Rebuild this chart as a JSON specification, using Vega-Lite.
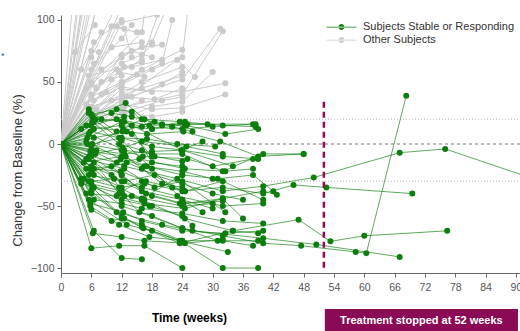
{
"$schema": "https://vega.github.io/schema/vega-lite/v6.json",
"width": 460,
"height": 258,
"autosize": "none",
"padding": {"left": 61, "top": 15, "right": 0, "bottom": 58},
"background": "white",
"config": {"view": {"stroke": null}, "font": "Liberation Sans", "axis": {"labelOverlap": false}},
"datasets": {
"subjects": [
{"s":"g1","g":"O","w":0,"v":0},{"s":"g1","g":"O","w":6,"v":75},{"s":"g1","g":"O","w":7.5,"v":74},
{"s":"g2","g":"O","w":0,"v":0},{"s":"g2","g":"O","w":6,"v":160},
{"s":"g3","g":"O","w":0,"v":0},{"s":"g3","g":"O","w":8,"v":220},
{"s":"g4","g":"O","w":0,"v":0},{"s":"g4","g":"O","w":12,"v":300},
{"s":"g5","g":"O","w":0,"v":0},{"s":"g5","g":"O","w":4,"v":130},
{"s":"g6","g":"O","w":0,"v":0},{"s":"g6","g":"O","w":10,"v":200},
{"s":"g7","g":"O","w":0,"v":0},{"s":"g7","g":"O","w":6.5,"v":82},{"s":"g7","g":"O","w":12,"v":100},
{"s":"g8","g":"O","w":0,"v":0},{"s":"g8","g":"O","w":11,"v":95},{"s":"g8","g":"O","w":12.5,"v":93},{"s":"g8","g":"O","w":14,"v":70},
{"s":"g9","g":"O","w":0,"v":0},{"s":"g9","g":"O","w":12,"v":98},{"s":"g9","g":"O","w":19,"v":104},
{"s":"g10","g":"O","w":0,"v":0},{"s":"g10","g":"O","w":5.5,"v":55},{"s":"g10","g":"O","w":12.5,"v":62},{"s":"g10","g":"O","w":16,"v":66},
{"s":"g11","g":"O","w":0,"v":0},{"s":"g11","g":"O","w":8,"v":40},{"s":"g11","g":"O","w":11.5,"v":58},{"s":"g11","g":"O","w":16.5,"v":54},
{"s":"g12","g":"O","w":0,"v":0},{"s":"g12","g":"O","w":6.5,"v":35},{"s":"g12","g":"O","w":12,"v":46},{"s":"g12","g":"O","w":18,"v":42},
{"s":"g13","g":"O","w":0,"v":0},{"s":"g13","g":"O","w":6,"v":30},{"s":"g13","g":"O","w":13,"v":38},{"s":"g13","g":"O","w":18.5,"v":36},{"s":"g13","g":"O","w":24,"v":45},
{"s":"g14","g":"O","w":0,"v":0},{"s":"g14","g":"O","w":5,"v":45},{"s":"g14","g":"O","w":10,"v":52},{"s":"g14","g":"O","w":12,"v":55},
{"s":"g15","g":"O","w":0,"v":0},{"s":"g15","g":"O","w":12,"v":72},{"s":"g15","g":"O","w":16,"v":78},{"s":"g15","g":"O","w":20,"v":80},
{"s":"g16","g":"O","w":0,"v":0},{"s":"g16","g":"O","w":12,"v":110},{"s":"g16","g":"O","w":20,"v":180},
{"s":"g17","g":"O","w":0,"v":0},{"s":"g17","g":"O","w":6,"v":25},{"s":"g17","g":"O","w":12,"v":32},{"s":"g17","g":"O","w":18,"v":28},{"s":"g17","g":"O","w":24,"v":29},{"s":"g17","g":"O","w":32.5,"v":40},
{"s":"g18","g":"O","w":0,"v":0},{"s":"g18","g":"O","w":7,"v":28},{"s":"g18","g":"O","w":12,"v":44},{"s":"g18","g":"O","w":24,"v":42},{"s":"g18","g":"O","w":32.5,"v":49},
{"s":"g19","g":"O","w":0,"v":0},{"s":"g19","g":"O","w":12,"v":36},{"s":"g19","g":"O","w":24,"v":52},{"s":"g19","g":"O","w":31.5,"v":93},
{"s":"g20","g":"O","w":0,"v":0},{"s":"g20","g":"O","w":12.5,"v":30},{"s":"g20","g":"O","w":24,"v":40},{"s":"g20","g":"O","w":32,"v":91},
{"s":"g21","g":"O","w":0,"v":0},{"s":"g21","g":"O","w":6,"v":38},{"s":"g21","g":"O","w":12,"v":50},{"s":"g21","g":"O","w":16,"v":60},{"s":"g21","g":"O","w":24,"v":76},
{"s":"g22","g":"O","w":0,"v":0},{"s":"g22","g":"O","w":6,"v":22},{"s":"g22","g":"O","w":12,"v":35},{"s":"g22","g":"O","w":23,"v":68},{"s":"g22","g":"O","w":26.5,"v":54},
{"s":"g23","g":"O","w":0,"v":0},{"s":"g23","g":"O","w":6,"v":60},{"s":"g23","g":"O","w":12,"v":85},{"s":"g23","g":"O","w":14,"v":96},
{"s":"g24","g":"O","w":0,"v":0},{"s":"g24","g":"O","w":8,"v":50},{"s":"g24","g":"O","w":16,"v":68},{"s":"g24","g":"O","w":24,"v":160},
{"s":"g25","g":"O","w":0,"v":0},{"s":"g25","g":"O","w":12,"v":48},{"s":"g25","g":"O","w":18,"v":60},{"s":"g25","g":"O","w":24,"v":70},{"s":"g25","g":"O","w":26,"v":140},
{"s":"g26","g":"O","w":0,"v":0},{"s":"g26","g":"O","w":6,"v":28},{"s":"g26","g":"O","w":12,"v":20},{"s":"g26","g":"O","w":18,"v":30},{"s":"g26","g":"O","w":24,"v":34},{"s":"g26","g":"O","w":30,"v":58},
{"s":"g27","g":"O","w":0,"v":0},{"s":"g27","g":"O","w":12,"v":50},{"s":"g27","g":"O","w":20,"v":65},{"s":"g27","g":"O","w":22,"v":100},
{"s":"g28","g":"O","w":0,"v":0},{"s":"g28","g":"O","w":6,"v":30},{"s":"g28","g":"O","w":16,"v":45},{"s":"g28","g":"O","w":24,"v":55},
{"s":"g29","g":"O","w":0,"v":0},{"s":"g29","g":"O","w":12,"v":25},{"s":"g29","g":"O","w":20,"v":35},{"s":"g29","g":"O","w":24,"v":38},
{"s":"g30","g":"O","w":0,"v":0},{"s":"g30","g":"O","w":6,"v":50},{"s":"g30","g":"O","w":16,"v":90},{"s":"g30","g":"O","w":18,"v":150},
{"s":"g31","g":"O","w":0,"v":0},{"s":"g31","g":"O","w":2.8,"v":74},{"s":"g31","g":"O","w":6.7,"v":96},
{"s":"g32","g":"O","w":0,"v":0},{"s":"g32","g":"O","w":10,"v":95},{"s":"g32","g":"O","w":15,"v":90},
{"s":"g33","g":"O","w":0,"v":0},{"s":"g33","g":"O","w":6,"v":70},{"s":"g33","g":"O","w":12,"v":120},
{"s":"g34","g":"O","w":0,"v":0},{"s":"g34","g":"O","w":3,"v":150},
{"s":"g35","g":"O","w":0,"v":0},{"s":"g35","g":"O","w":7,"v":250},
{"s":"g36","g":"O","w":0,"v":0},{"s":"g36","g":"O","w":5,"v":110},
{"s":"g37","g":"O","w":0,"v":0},{"s":"g37","g":"O","w":9,"v":140},
{"s":"g38","g":"O","w":0,"v":0},{"s":"g38","g":"O","w":14,"v":260},
{"s":"g39","g":"O","w":0,"v":0},{"s":"g39","g":"O","w":16,"v":250},
{"s":"g40","g":"O","w":0,"v":0},{"s":"g40","g":"O","w":6,"v":40},{"s":"g40","g":"O","w":12,"v":65},{"s":"g40","g":"O","w":16,"v":72},{"s":"g40","g":"O","w":18,"v":80},
{"s":"g41","g":"O","w":0,"v":0},{"s":"g41","g":"O","w":6,"v":20},{"s":"g41","g":"O","w":12,"v":28},{"s":"g41","g":"O","w":16,"v":35},
{"s":"g42","g":"O","w":0,"v":0},{"s":"g42","g":"O","w":7,"v":45},{"s":"g42","g":"O","w":11,"v":60},{"s":"g42","g":"O","w":14,"v":62},{"s":"g42","g":"O","w":20,"v":68},
{"s":"g43","g":"O","w":0,"v":0},{"s":"g43","g":"O","w":6.5,"v":65},{"s":"g43","g":"O","w":10,"v":78},{"s":"g43","g":"O","w":16,"v":82},
{"s":"g44","g":"O","w":0,"v":0},{"s":"g44","g":"O","w":12,"v":40},{"s":"g44","g":"O","w":16,"v":50},{"s":"g44","g":"O","w":24,"v":62},
{"s":"g45","g":"O","w":0,"v":0},{"s":"g45","g":"O","w":12.5,"v":26},{"s":"g45","g":"O","w":18,"v":22},{"s":"g45","g":"O","w":24,"v":26},
{"s":"g46","g":"O","w":0,"v":0},{"s":"g46","g":"O","w":8,"v":60},{"s":"g46","g":"O","w":14,"v":75},{"s":"g46","g":"O","w":18,"v":70},
{"s":"g47","g":"O","w":0,"v":0},{"s":"g47","g":"O","w":10,"v":35},{"s":"g47","g":"O","w":14,"v":38},{"s":"g47","g":"O","w":20,"v":48},{"s":"g47","g":"O","w":24,"v":58},
{"s":"g48","g":"O","w":0,"v":0},{"s":"g48","g":"O","w":4,"v":60},{"s":"g48","g":"O","w":8,"v":90},
{"s":"g49","g":"O","w":0,"v":0},{"s":"g49","g":"O","w":6,"v":48},{"s":"g49","g":"O","w":12,"v":70},{"s":"g49","g":"O","w":18,"v":82},{"s":"g49","g":"O","w":22,"v":120},
{"s":"g50","g":"O","w":0,"v":0},{"s":"g50","g":"O","w":5,"v":32},{"s":"g50","g":"O","w":9,"v":42},{"s":"g50","g":"O","w":15,"v":56},
{"s":"a1","g":"S","w":0,"v":0},{"s":"a1","g":"S","w":5.5,"v":28},{"s":"a1","g":"S","w":8,"v":20},{"s":"a1","g":"S","w":12.5,"v":18},{"s":"a1","g":"S","w":16,"v":14},{"s":"a1","g":"S","w":24,"v":12},{"s":"a1","g":"S","w":30,"v":14},{"s":"a1","g":"S","w":38,"v":16},
{"s":"a2","g":"S","w":0,"v":0},{"s":"a2","g":"S","w":6.2,"v":22},{"s":"a2","g":"S","w":12.8,"v":33},{"s":"a2","g":"S","w":16.5,"v":20},{"s":"a2","g":"S","w":23.5,"v":18},{"s":"a2","g":"S","w":32,"v":15},{"s":"a2","g":"S","w":38.5,"v":14},
{"s":"a3","g":"S","w":0,"v":0},{"s":"a3","g":"S","w":4,"v":12},{"s":"a3","g":"S","w":6.5,"v":18},{"s":"a3","g":"S","w":11,"v":20},{"s":"a3","g":"S","w":17.5,"v":15},{"s":"a3","g":"S","w":24.5,"v":16},{"s":"a3","g":"S","w":29,"v":16},
{"s":"a4","g":"S","w":0,"v":0},{"s":"a4","g":"S","w":5,"v":15},{"s":"a4","g":"S","w":12.2,"v":10},{"s":"a4","g":"S","w":18.5,"v":18},{"s":"a4","g":"S","w":22,"v":14},{"s":"a4","g":"S","w":26,"v":10},
{"s":"a5","g":"S","w":0,"v":0},{"s":"a5","g":"S","w":6.8,"v":20},{"s":"a5","g":"S","w":10,"v":25},{"s":"a5","g":"S","w":14,"v":22},{"s":"a5","g":"S","w":20,"v":16},{"s":"a5","g":"S","w":24.8,"v":15},{"s":"a5","g":"S","w":32.5,"v":8},{"s":"a5","g":"S","w":39,"v":12},
{"s":"a6","g":"S","w":0,"v":0},{"s":"a6","g":"S","w":5.8,"v":10},{"s":"a6","g":"S","w":11.5,"v":5},{"s":"a6","g":"S","w":17,"v":4},{"s":"a6","g":"S","w":23,"v":0},{"s":"a6","g":"S","w":30.5,"v":-2},
{"s":"a7","g":"S","w":0,"v":0},{"s":"a7","g":"S","w":6.5,"v":5},{"s":"a7","g":"S","w":13,"v":10},{"s":"a7","g":"S","w":17,"v":8},{"s":"a7","g":"S","w":24.2,"v":10},{"s":"a7","g":"S","w":31.5,"v":2},{"s":"a7","g":"S","w":39,"v":-10},{"s":"a7","g":"S","w":48,"v":-8},
{"s":"a8","g":"S","w":0,"v":0},{"s":"a8","g":"S","w":5.2,"v":0},{"s":"a8","g":"S","w":12,"v":-5},{"s":"a8","g":"S","w":16.2,"v":-10},{"s":"a8","g":"S","w":25,"v":-12},{"s":"a8","g":"S","w":30,"v":-18},{"s":"a8","g":"S","w":38,"v":-12},
{"s":"a9","g":"S","w":0,"v":0},{"s":"a9","g":"S","w":7,"v":-5},{"s":"a9","g":"S","w":12.5,"v":-8},{"s":"a9","g":"S","w":18,"v":-6},{"s":"a9","g":"S","w":23.8,"v":-5},{"s":"a9","g":"S","w":28,"v":2},
{"s":"a10","g":"S","w":0,"v":0},{"s":"a10","g":"S","w":6,"v":-10},{"s":"a10","g":"S","w":11,"v":-15},{"s":"a10","g":"S","w":15.5,"v":-12},{"s":"a10","g":"S","w":24.5,"v":-20},{"s":"a10","g":"S","w":32.5,"v":-22},{"s":"a10","g":"S","w":38,"v":-20},
{"s":"a11","g":"S","w":0,"v":0},{"s":"a11","g":"S","w":4.5,"v":-15},{"s":"a11","g":"S","w":12,"v":-10},{"s":"a11","g":"S","w":17,"v":-18},{"s":"a11","g":"S","w":24,"v":-25},{"s":"a11","g":"S","w":31,"v":-28},{"s":"a11","g":"S","w":38,"v":-25},{"s":"a11","g":"S","w":42,"v":-38},
{"s":"a12","g":"S","w":0,"v":0},{"s":"a12","g":"S","w":6.3,"v":-20},{"s":"a12","g":"S","w":11.8,"v":-22},{"s":"a12","g":"S","w":16.8,"v":-30},{"s":"a12","g":"S","w":22,"v":-35},{"s":"a12","g":"S","w":24.5,"v":-38},
{"s":"a13","g":"S","w":0,"v":0},{"s":"a13","g":"S","w":5.5,"v":-25},{"s":"a13","g":"S","w":12.5,"v":-30},{"s":"a13","g":"S","w":18.5,"v":-25},{"s":"a13","g":"S","w":24,"v":-32},{"s":"a13","g":"S","w":30,"v":-40},{"s":"a13","g":"S","w":36,"v":-45},
{"s":"a14","g":"S","w":0,"v":0},{"s":"a14","g":"S","w":6,"v":-30},{"s":"a14","g":"S","w":10.5,"v":-28},{"s":"a14","g":"S","w":16,"v":-35},{"s":"a14","g":"S","w":23,"v":-42},{"s":"a14","g":"S","w":32,"v":-50},{"s":"a14","g":"S","w":40,"v":-48},
{"s":"a15","g":"S","w":0,"v":0},{"s":"a15","g":"S","w":6.5,"v":-35},{"s":"a15","g":"S","w":12,"v":-45},{"s":"a15","g":"S","w":17.5,"v":-50},{"s":"a15","g":"S","w":24,"v":-58},{"s":"a15","g":"S","w":26,"v":-66},
{"s":"a16","g":"S","w":0,"v":0},{"s":"a16","g":"S","w":5,"v":-40},{"s":"a16","g":"S","w":11,"v":-42},{"s":"a16","g":"S","w":16.5,"v":-48},{"s":"a16","g":"S","w":24.5,"v":-52},{"s":"a16","g":"S","w":32,"v":-44},{"s":"a16","g":"S","w":36,"v":-60},
{"s":"a17","g":"S","w":0,"v":0},{"s":"a17","g":"S","w":5.8,"v":-48},{"s":"a17","g":"S","w":12.3,"v":-55},{"s":"a17","g":"S","w":16,"v":-62},{"s":"a17","g":"S","w":24,"v":-70},{"s":"a17","g":"S","w":32.5,"v":-72},{"s":"a17","g":"S","w":40,"v":-70},
{"s":"a18","g":"S","w":0,"v":0},{"s":"a18","g":"S","w":6,"v":-53},{"s":"a18","g":"S","w":10,"v":-62},{"s":"a18","g":"S","w":12,"v":-60},{"s":"a18","g":"S","w":16,"v":-65},{"s":"a18","g":"S","w":24,"v":-78},{"s":"a18","g":"S","w":32,"v":-78},{"s":"a18","g":"S","w":38,"v":-82},
{"s":"a19","g":"S","w":0,"v":0},{"s":"a19","g":"S","w":6.3,"v":-72},{"s":"a19","g":"S","w":12,"v":-75},{"s":"a19","g":"S","w":16.5,"v":-78},{"s":"a19","g":"S","w":24.5,"v":-80},{"s":"a19","g":"S","w":32,"v":-77},
{"s":"a20","g":"S","w":0,"v":0},{"s":"a20","g":"S","w":6,"v":-84},{"s":"a20","g":"S","w":11.5,"v":-82},{"s":"a20","g":"S","w":16.5,"v":-82},{"s":"a20","g":"S","w":24,"v":-100},
{"s":"a21","g":"S","w":0,"v":0},{"s":"a21","g":"S","w":6.5,"v":-70},{"s":"a21","g":"S","w":12,"v":-92},{"s":"a21","g":"S","w":16,"v":-93},
{"s":"a22","g":"S","w":0,"v":0},{"s":"a22","g":"S","w":5.5,"v":-45},{"s":"a22","g":"S","w":13,"v":-65},{"s":"a22","g":"S","w":18,"v":-70},{"s":"a22","g":"S","w":23.5,"v":-78},{"s":"a22","g":"S","w":33,"v":-87},
{"s":"a23","g":"S","w":0,"v":0},{"s":"a23","g":"S","w":6,"v":-38},{"s":"a23","g":"S","w":12,"v":-58},{"s":"a23","g":"S","w":16,"v":-67},{"s":"a23","g":"S","w":24,"v":-79},{"s":"a23","g":"S","w":32,"v":-100},{"s":"a23","g":"S","w":39,"v":-100},
{"s":"a24","g":"S","w":0,"v":0},{"s":"a24","g":"S","w":6.5,"v":-20},{"s":"a24","g":"S","w":12,"v":-40},{"s":"a24","g":"S","w":15.5,"v":-55},{"s":"a24","g":"S","w":24,"v":-68},{"s":"a24","g":"S","w":31,"v":-78},{"s":"a24","g":"S","w":39,"v":-78},
{"s":"a25","g":"S","w":0,"v":0},{"s":"a25","g":"S","w":5,"v":-12},{"s":"a25","g":"S","w":12.5,"v":-20},{"s":"a25","g":"S","w":18.5,"v":-35},{"s":"a25","g":"S","w":24,"v":-30},{"s":"a25","g":"S","w":32.5,"v":-55},
{"s":"a26","g":"S","w":0,"v":0},{"s":"a26","g":"S","w":6.8,"v":-8},{"s":"a26","g":"S","w":12.2,"v":-3},{"s":"a26","g":"S","w":16,"v":2},{"s":"a26","g":"S","w":24.8,"v":-2},{"s":"a26","g":"S","w":32,"v":-8},
{"s":"a27","g":"S","w":0,"v":0},{"s":"a27","g":"S","w":5.5,"v":25},{"s":"a27","g":"S","w":11,"v":10},{"s":"a27","g":"S","w":14,"v":8},{"s":"a27","g":"S","w":18,"v":-10},
{"s":"a28","g":"S","w":0,"v":0},{"s":"a28","g":"S","w":6.2,"v":18},{"s":"a28","g":"S","w":11.5,"v":0},{"s":"a28","g":"S","w":16,"v":-5},{"s":"a28","g":"S","w":18.5,"v":-10},{"s":"a28","g":"S","w":24,"v":-14},
{"s":"a29","g":"S","w":0,"v":0},{"s":"a29","g":"S","w":5,"v":-20},{"s":"a29","g":"S","w":10,"v":-18},{"s":"a29","g":"S","w":12,"v":-25},{"s":"a29","g":"S","w":16,"v":-38},{"s":"a29","g":"S","w":24,"v":-45},{"s":"a29","g":"S","w":30,"v":-52},
{"s":"a30","g":"S","w":0,"v":0},{"s":"a30","g":"S","w":4.5,"v":-28},{"s":"a30","g":"S","w":11.5,"v":-35},{"s":"a30","g":"S","w":16.5,"v":-45},{"s":"a30","g":"S","w":18,"v":-50},
{"s":"a31","g":"S","w":0,"v":0},{"s":"a31","g":"S","w":6,"v":-22},{"s":"a31","g":"S","w":13,"v":-15},{"s":"a31","g":"S","w":16,"v":-20},{"s":"a31","g":"S","w":24,"v":-38},{"s":"a31","g":"S","w":32,"v":-35},{"s":"a31","g":"S","w":40,"v":-40},{"s":"a31","g":"S","w":46,"v":-33},{"s":"a31","g":"S","w":52.5,"v":-35},{"s":"a31","g":"S","w":69.5,"v":-40},
{"s":"a32","g":"S","w":0,"v":0},{"s":"a32","g":"S","w":5.5,"v":-10},{"s":"a32","g":"S","w":12,"v":-25},{"s":"a32","g":"S","w":16.8,"v":-40},{"s":"a32","g":"S","w":24.2,"v":-48},{"s":"a32","g":"S","w":32,"v":-44},{"s":"a32","g":"S","w":40,"v":-38},{"s":"a32","g":"S","w":42.7,"v":-41},
{"s":"a33","g":"S","w":0,"v":0},{"s":"a33","g":"S","w":6,"v":-5},{"s":"a33","g":"S","w":12.5,"v":-18},{"s":"a33","g":"S","w":23,"v":-28},{"s":"a33","g":"S","w":32,"v":-38},{"s":"a33","g":"S","w":40,"v":-34},{"s":"a33","g":"S","w":50,"v":-27},{"s":"a33","g":"S","w":67,"v":-7},{"s":"a33","g":"S","w":76,"v":-4},{"s":"a33","g":"S","w":92,"v":-26},
{"s":"a34","g":"S","w":0,"v":0},{"s":"a34","g":"S","w":6.5,"v":-15},{"s":"a34","g":"S","w":11.5,"v":-40},{"s":"a34","g":"S","w":16,"v":-45},{"s":"a34","g":"S","w":24.5,"v":-60},{"s":"a34","g":"S","w":34,"v":-70},{"s":"a34","g":"S","w":47,"v":-61},{"s":"a34","g":"S","w":53.3,"v":-78.5},{"s":"a34","g":"S","w":60,"v":-74},{"s":"a34","g":"S","w":76.4,"v":-70},
{"s":"a35","g":"S","w":0,"v":0},{"s":"a35","g":"S","w":5.5,"v":-30},{"s":"a35","g":"S","w":12,"v":-50},{"s":"a35","g":"S","w":18,"v":-58},{"s":"a35","g":"S","w":24,"v":-68},{"s":"a35","g":"S","w":32,"v":-74},{"s":"a35","g":"S","w":40,"v":-80},{"s":"a35","g":"S","w":47.5,"v":-82},{"s":"a35","g":"S","w":58.3,"v":-87},{"s":"a35","g":"S","w":60.4,"v":-88},{"s":"a35","g":"S","w":68.3,"v":39},
{"s":"a36","g":"S","w":0,"v":0},{"s":"a36","g":"S","w":6,"v":-40},{"s":"a36","g":"S","w":11,"v":-55},{"s":"a36","g":"S","w":20,"v":-65},{"s":"a36","g":"S","w":26,"v":-70},{"s":"a36","g":"S","w":40,"v":-76},{"s":"a36","g":"S","w":50.5,"v":-81},{"s":"a36","g":"S","w":67,"v":-91},
{"s":"a37","g":"S","w":0,"v":0},{"s":"a37","g":"S","w":6.2,"v":-35},{"s":"a37","g":"S","w":12.5,"v":-60},{"s":"a37","g":"S","w":16.3,"v":-68},{"s":"a37","g":"S","w":23.5,"v":-80},{"s":"a37","g":"S","w":34,"v":-70},{"s":"a37","g":"S","w":39,"v":-72},
{"s":"a38","g":"S","w":0,"v":0},{"s":"a38","g":"S","w":4,"v":-32},{"s":"a38","g":"S","w":12,"v":-40},{"s":"a38","g":"S","w":14,"v":-42},{"s":"a38","g":"S","w":24,"v":-50},{"s":"a38","g":"S","w":30,"v":-48},
{"s":"a39","g":"S","w":0,"v":0},{"s":"a39","g":"S","w":6.5,"v":12},{"s":"a39","g":"S","w":12,"v":15},{"s":"a39","g":"S","w":18,"v":12},{"s":"a39","g":"S","w":25,"v":16},{"s":"a39","g":"S","w":38.5,"v":16},
{"s":"a40","g":"S","w":0,"v":0},{"s":"a40","g":"S","w":5.5,"v":8},{"s":"a40","g":"S","w":12.5,"v":-5},{"s":"a40","g":"S","w":18,"v":-8},{"s":"a40","g":"S","w":24,"v":-8},{"s":"a40","g":"S","w":32,"v":-22},{"s":"a40","g":"S","w":40,"v":-8},{"s":"a40","g":"S","w":48,"v":-8},
{"s":"a41","g":"S","w":0,"v":0},{"s":"a41","g":"S","w":6,"v":-2},{"s":"a41","g":"S","w":12.3,"v":12},{"s":"a41","g":"S","w":16,"v":20},{"s":"a41","g":"S","w":20,"v":15},{"s":"a41","g":"S","w":24.5,"v":18},
{"s":"a42","g":"S","w":0,"v":0},{"s":"a42","g":"S","w":5,"v":2},{"s":"a42","g":"S","w":11.8,"v":-12},{"s":"a42","g":"S","w":16.5,"v":-18},{"s":"a42","g":"S","w":24,"v":-22},{"s":"a42","g":"S","w":30,"v":-28},
{"s":"a43","g":"S","w":0,"v":0},{"s":"a43","g":"S","w":6,"v":-18},{"s":"a43","g":"S","w":10,"v":-25},{"s":"a43","g":"S","w":12.5,"v":-42},{"s":"a43","g":"S","w":16,"v":-44},{"s":"a43","g":"S","w":24,"v":-25},
{"s":"a44","g":"S","w":0,"v":0},{"s":"a44","g":"S","w":6.5,"v":-25},{"s":"a44","g":"S","w":12,"v":-35},{"s":"a44","g":"S","w":16.5,"v":-32},{"s":"a44","g":"S","w":24.5,"v":-38},{"s":"a44","g":"S","w":32,"v":-30},{"s":"a44","g":"S","w":40,"v":-45},
{"s":"a45","g":"S","w":0,"v":0},{"s":"a45","g":"S","w":5.2,"v":5},{"s":"a45","g":"S","w":12,"v":18},{"s":"a45","g":"S","w":14,"v":15},{"s":"a45","g":"S","w":24,"v":-5},{"s":"a45","g":"S","w":32,"v":-10},{"s":"a45","g":"S","w":39,"v":-12},
{"s":"a46","g":"S","w":0,"v":0},{"s":"a46","g":"S","w":6,"v":24},{"s":"a46","g":"S","w":11,"v":28},{"s":"a46","g":"S","w":14,"v":26},{"s":"a46","g":"S","w":18,"v":12},
{"s":"a47","g":"S","w":0,"v":0},{"s":"a47","g":"S","w":6.5,"v":-45},{"s":"a47","g":"S","w":12,"v":-48},{"s":"a47","g":"S","w":16,"v":-52},{"s":"a47","g":"S","w":24,"v":-56},{"s":"a47","g":"S","w":32,"v":-62},{"s":"a47","g":"S","w":40,"v":-64},
{"s":"a48","g":"S","w":0,"v":0},{"s":"a48","g":"S","w":5.8,"v":-6},{"s":"a48","g":"S","w":12.8,"v":-10},{"s":"a48","g":"S","w":20,"v":-32},{"s":"a48","g":"S","w":24,"v":-35},
{"s":"a49","g":"S","w":0,"v":0},{"s":"a49","g":"S","w":6,"v":15},{"s":"a49","g":"S","w":12.5,"v":22},{"s":"a49","g":"S","w":18,"v":-15},{"s":"a49","g":"S","w":24,"v":-18},
{"s":"a50","g":"S","w":0,"v":0},{"s":"a50","g":"S","w":5.5,"v":-12},{"s":"a50","g":"S","w":12,"v":-30},{"s":"a50","g":"S","w":18,"v":-42},{"s":"a50","g":"S","w":23.5,"v":-48},{"s":"a50","g":"S","w":32,"v":-46},
{"s":"a51","g":"S","w":0,"v":0},{"s":"a51","g":"S","w":6.2,"v":0},{"s":"a51","g":"S","w":12,"v":5},{"s":"a51","g":"S","w":18,"v":-2},{"s":"a51","g":"S","w":24,"v":-5},{"s":"a51","g":"S","w":34,"v":-18},
{"s":"a52","g":"S","w":0,"v":0},{"s":"a52","g":"S","w":4,"v":-28},{"s":"a52","g":"S","w":6,"v":-32},{"s":"a52","g":"S","w":12,"v":-38},{"s":"a52","g":"S","w":16,"v":-30},
{"s":"a53","g":"S","w":0,"v":0},{"s":"a53","g":"S","w":5.8,"v":-50},{"s":"a53","g":"S","w":11.5,"v":-65},{"s":"a53","g":"S","w":17.5,"v":-75},{"s":"a53","g":"S","w":24,"v":-78},
{"s":"a54","g":"S","w":0,"v":0},{"s":"a54","g":"S","w":6.5,"v":20},{"s":"a54","g":"S","w":12,"v":3},{"s":"a54","g":"S","w":18,"v":-20},{"s":"a54","g":"S","w":24,"v":-45},{"s":"a54","g":"S","w":28,"v":-55}
]
},
"encoding": {
"x": {"field": "w", "type": "quantitative",
"scale": {"domain": [0, 91], "nice": false, "zero": false},
"axis": {"values": [0,6,12,18,24,30,36,42,48,54,60,66,72,78,84,90], "grid": false, "labelOverlap": false, "labelBound": false, "labelColor": "#555555", "labelFontSize": 10.5, "tickColor": "#666666", "domainColor": "#666666", "tickSize": 4, "labelPadding": 5, "title": "Time (weeks)", "titleFontSize": 12, "titleFontWeight": "bold", "titleColor": "#000000", "titleX": 128, "titleY": 44, "titleAnchor": "middle", "titleBaseline": "middle", "labelFlush": false}},
"y": {"field": "v", "type": "quantitative",
"scale": {"domain": [-104, 104], "nice": false, "zero": false},
"axis": {"values": [-100, -50, 0, 50, 100], "grid": false, "labelOverlap": false, "labelColor": "#555555", "labelFontSize": 10.5, "tickColor": "#666666", "domainColor": "#666666", "tickSize": 4, "labelPadding": 3, "title": "Change from Baseline (%)", "titleFontSize": 13, "titleFontWeight": "normal", "titleColor": "#333333", "titleX": -44, "titleY": 155, "titleAngle": -90, "titleAlign": "center", "titleBaseline": "middle"}}
},
"layer": [
{
"data": {"values": [{"w": 0, "w2": 91, "v": 20}, {"w": 0, "w2": 91, "v": -30}]},
"mark": {"type": "rule", "color": "#b5b5b5", "strokeDash": [1, 2], "strokeWidth": 1},
"encoding": {"x2": {"field": "w2"}}
},
{
"data": {"values": [{"w": 0, "w2": 91, "v": 0}]},
"mark": {"type": "rule", "color": "#777777", "strokeDash": [3, 3], "strokeWidth": 1},
"encoding": {"x2": {"field": "w2"}}
},
{
"data": {"name": "subjects"},
"encoding": {
"color": {"field": "g", "type": "nominal",
"scale": {"domain": ["S", "O"], "range": ["#0d7d0d", "#cbcbcb"]},
"legend": {"orient": "none", "legendX": 273, "legendY": 4.5, "title": null, "direction": "vertical",
"symbolType": "M-2,-0.05H2V0.05H-2Z M-0.4,0A0.4,0.4 0 1,0 0.4,0A0.4,0.4 0 1,0 -0.4,0Z",
"symbolSize": 225, "symbolStrokeWidth": 0, "labelOffset": 14, "labelFontSize": 11, "labelColor": "#333333", "rowPadding": 0, "padding": 0,
"labelExpr": "datum.label == 'S' ? 'Subjects Stable or Responding' : 'Other Subjects'",
"encode": {"symbols": {"update": {"fill": {"scale": "color", "field": "value"}, "stroke": {"value": "transparent"}, "strokeWidth": {"value": 0}, "opacity": {"value": 1}}}}}},
"detail": {"field": "s"},
"order": {"field": "w", "type": "quantitative"}
},
"layer": [
{"transform": [{"filter": "datum.g == 'O'"}], "mark": {"type": "line", "clip": true, "strokeWidth": 1, "color": "#d3d3d3"}},
{"transform": [{"filter": "datum.g == 'O'"}], "mark": {"type": "point", "filled": true, "size": 36, "opacity": 1, "clip": true}},
{"transform": [{"filter": "datum.g == 'S'"}], "mark": {"type": "line", "clip": true, "strokeWidth": 1, "opacity": 0.65}},
{"transform": [{"filter": "datum.g == 'S'"}], "mark": {"type": "point", "filled": true, "size": 36, "opacity": 1, "clip": true}}
]
},
{
"data": {"values": [{"w": 52, "v": 34, "v2": -102}]},
"mark": {"type": "rule", "color": "#960a5e", "strokeDash": [6, 4], "strokeWidth": 2.5, "clip": false},
"encoding": {"y2": {"field": "v2"}}
},
{
"data": {"values": [{"w": 52.2, "w2": 90.4, "v": -133, "v2": -152}]},
"mark": {"type": "rect", "color": "#8b0a55", "clip": false},
"encoding": {"x2": {"field": "w2"}, "y2": {"field": "v2"}}
},
{
"data": {"values": [{"w": 71.3, "v": -142.7, "t": "Treatment stopped at 52 weeks"}]},
"mark": {"type": "text", "color": "#ffffff", "fontWeight": "bold", "fontSize": 11, "align": "center", "baseline": "middle", "clip": false},
"encoding": {"text": {"field": "t"}}
},
{
"data": {"values": [{"w": -11.5, "v": 71, "t": "*"}]},
"mark": {"type": "text", "color": "#2a56a8", "fontSize": 9, "align": "center", "baseline": "middle", "clip": false},
"encoding": {"text": {"field": "t"}}
}
]
}
